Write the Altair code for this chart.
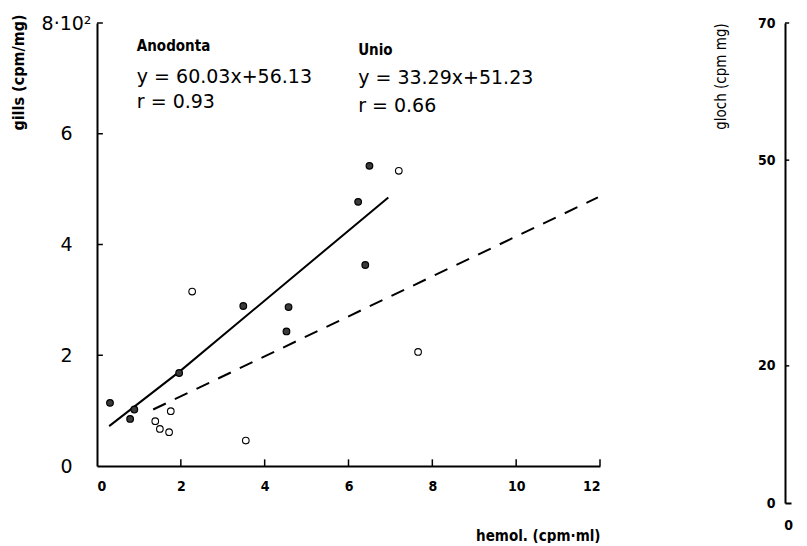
import altair as alt
import pandas as pd

# ---- data (x: hemol. cpm/ml, y: gills cpm/mg x 10^2) ----
anod_x = [0.31, 0.79, 0.89, 1.96, 3.49, 4.57, 4.52, 6.23, 6.50, 6.40]
anod_y = [1.14, 0.85, 1.02, 1.68, 2.89, 2.87, 2.43, 4.77, 5.42, 3.63]
unio_x = [2.27, 7.20, 7.66, 1.76, 1.39, 1.50, 1.72, 3.55]
unio_y = [3.15, 5.33, 2.06, 0.99, 0.81, 0.67, 0.61, 0.46]

# regression lines as drawn
anod_line_x = [0.29, 1.96, 6.95]
anod_line_y = [0.72, 1.70, 4.85]
unio_line_x = [1.34, 11.95]
unio_line_y = [1.02, 4.85]

# axis ticks
x_ticks = [0, 2, 4, 6, 8, 10, 12]
y_ticks = [0, 2, 4, 6, 8]
gl_ticks = [0, 20, 50, 70]

# annotations (text, x, y in data units)
names = ["Anodonta", "Unio"]
names_x = [0.95, 6.23]
names_y = [7.58, 7.51]
stats = ["y = 60.03x+56.13", "r = 0.93", "y = 33.29x+51.23", "r = 0.66"]
stats_x = [0.95, 0.95, 6.23, 6.23]
stats_y = [7.02, 6.57, 7.01, 6.50]

BOLD = "DejaVu Sans Condensed, Liberation Sans Narrow, Roboto Condensed, Roboto"
REG = "DejaVu Sans"

pts = pd.DataFrame({
    "x": anod_x + unio_x,
    "y": anod_y + unio_y,
    "species": ["Anodonta"] * len(anod_x) + ["Unio"] * len(unio_x),
})
lines = pd.DataFrame({
    "x": anod_line_x + unio_line_x,
    "y": anod_line_y + unio_line_y,
    "species": ["Anodonta"] * len(anod_line_x) + ["Unio"] * len(unio_line_x),
})
names_df = pd.DataFrame({"t": names, "x": names_x, "y": names_y})
stats_df = pd.DataFrame({"t": stats, "x": stats_x, "y": stats_y})
xt_df = pd.DataFrame({"v": x_ticks[1:]})
yt_df = pd.DataFrame({"v": y_ticks[1:]})
gt_df = pd.DataFrame({"v": gl_ticks[1:]})

xs = alt.Scale(domain=[0, 12], nice=False, zero=False)
ys = alt.Scale(domain=[0, 8], nice=False, zero=False)

x_axis = alt.Axis(
    values=x_ticks, title="hemol. (cpm·ml)", grid=False, tickSize=0,
    domainColor="black", domainWidth=2, labelFont=BOLD, labelFontWeight="bold",
    labelFontSize=14, labelPadding=13, labelColor="black", format="d",
    titleFont=BOLD, titleFontWeight="bold", titleFontSize=15, titleColor="black",
    titleAnchor="end", titleAlign="right", titleX=503, titleY=69, titleBaseline="middle",
)
y_axis = alt.Axis(
    values=y_ticks, title="gills (cpm/mg)", grid=False, tickSize=0,
    domainColor="black", domainWidth=2, labelFont=REG, labelFontSize=19,
    labelColor="black", labelAlign="center", labelBaseline="middle", labelPadding=31,
    labelExpr="datum.value == 8 ? '8·10²' : format(datum.value, 'd')",
    titleFont=BOLD, titleFontWeight="bold", titleFontSize=16, titleColor="black",
    titleAngle=270, titleAlign="center", titleBaseline="middle", titleX=-79, titleY=49,
)

base_pts = alt.Chart(pts)
filled = base_pts.transform_filter("datum.species == 'Anodonta'").mark_point(
    shape="circle", filled=True, size=44, fill="#3a3a3a", stroke="black", strokeWidth=1.2, opacity=1
).encode(x=alt.X("x:Q", scale=xs, axis=x_axis), y=alt.Y("y:Q", scale=ys, axis=y_axis))
opened = base_pts.transform_filter("datum.species == 'Unio'").mark_point(
    shape="circle", filled=True, size=44, fill="white", stroke="black", strokeWidth=1.1, opacity=1
).encode(x=alt.X("x:Q", scale=xs), y=alt.Y("y:Q", scale=ys))

solid = alt.Chart(lines).transform_filter("datum.species == 'Anodonta'").mark_line(
    color="black", strokeWidth=2
).encode(x=alt.X("x:Q", scale=xs), y=alt.Y("y:Q", scale=ys))
dashed = alt.Chart(lines).transform_filter("datum.species == 'Unio'").mark_line(
    color="black", strokeWidth=2, strokeDash=[14, 10]
).encode(x=alt.X("x:Q", scale=xs), y=alt.Y("y:Q", scale=ys))

name_txt = alt.Chart(names_df).mark_text(
    align="left", baseline="middle", font=BOLD, fontWeight="bold", fontSize=15, color="black"
).encode(x=alt.X("x:Q", scale=xs), y=alt.Y("y:Q", scale=ys), text="t:N")
stat_txt = alt.Chart(stats_df).mark_text(
    align="left", baseline="middle", font=REG, fontSize=19, color="black"
).encode(x=alt.X("x:Q", scale=xs), y=alt.Y("y:Q", scale=ys), text="t:N")

xt = alt.Chart(xt_df).mark_rule(color="black", strokeWidth=1.5).encode(
    x=alt.X("v:Q", scale=xs), y=alt.datum(0, scale=ys), y2=alt.datum(0.12))
yt = alt.Chart(yt_df).mark_rule(color="black", strokeWidth=1.5).encode(
    y=alt.Y("v:Q", scale=ys), x=alt.datum(0, scale=xs), x2=alt.datum(0.14))

left = alt.layer(xt, yt, solid, dashed, opened, filled, name_txt, stat_txt).properties(
    width=503, height=443)

# right-hand (cropped) glochidia panel: axis only
gxs = alt.Scale(domain=[0, 1], nice=False, zero=False)
gys = alt.Scale(domain=[0, 70], nice=False, zero=False)
right = alt.Chart(gt_df).mark_rule(color="black", strokeWidth=1.5).encode(
    y=alt.Y("v:Q", scale=gys, axis=alt.Axis(
        values=gl_ticks, title="gloch (cpm mg)", grid=False, tickSize=0,
        domainColor="black", domainWidth=2, labelFont=BOLD, labelFontWeight="bold",
        labelFontSize=14, labelColor="black", labelPadding=10,
        titleFont=BOLD, titleFontWeight="normal", titleFontSize=15, titleColor="black",
        titleAngle=270, titleAlign="center", titleBaseline="middle", titleX=-65, titleY=53)),
    x=alt.datum(0, scale=gxs, axis=alt.Axis(
        values=[0], title=None, grid=False, tickSize=0, domainColor="black", domainWidth=2,
        labelFont=BOLD, labelFontWeight="bold", labelFontSize=14, labelColor="black",
        labelPadding=15, labelAlign="center", labelOffset=3)),
    x2=alt.datum(0.7),
).properties(width=6, height=480)

chart = alt.hconcat(left, right, spacing=110).configure(
    padding={"left": 2, "top": 5, "right": 0, "bottom": 0},
    background="white",
).configure_view(stroke=None)

chart.save("out.html", embed_options={"renderer": "svg", "actions": False})
